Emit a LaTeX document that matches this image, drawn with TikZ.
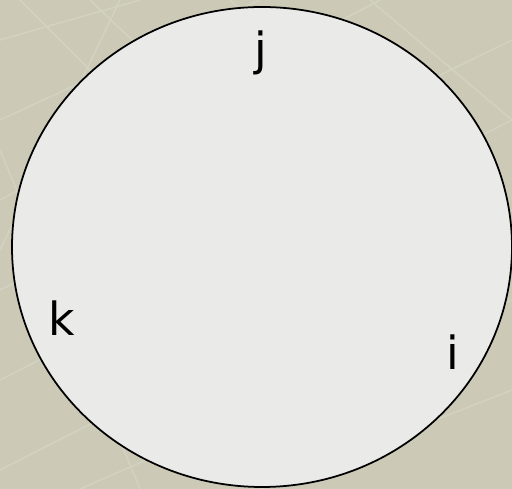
\documentclass[tikz,border=0pt]{standalone}
\usepackage{fontspec}
\setmainfont{DejaVu Sans}
\usepackage{xcolor}
\usetikzlibrary{positioning}
\definecolor{slidebg}{HTML}{CCCAB7}
\definecolor{slidegrid}{HTML}{D3D1C0}
\definecolor{discfill}{HTML}{EAEAE8}

\begin{document}
\begin{tikzpicture}[x=0.02cm,y=-0.02cm,
    axislabel/.style={font=\fontsize{26}{26}\selectfont, inner sep=0pt}]
      \fill[slidebg] (0,0) rectangle (512,489);
      \useasboundingbox (0,0) rectangle (512,489);
      \begin{scope}
        \clip (0,0) rectangle (512,489);
        \foreach \xa/\ya/\xb/\yb in {0/40/140/0,0/120/260/0,0/200/380/0,0/290/512/40,0/380/512/120,0/470/512/210,80/489/512/300,260/489/512/390,
          20/0/170/150,90/0/300/200,230/0/512/260,370/0/512/120,0/150/140/489,120/0/0/250}
          \draw[slidegrid, line width=0.9pt] (\xa,\ya) -- (\xb,\yb);
      \end{scope}
      \draw[black, fill=discfill, line width=1pt] (262,247) ellipse (250 and 240);
      \node[axislabel] (j) at (261,53) {j};
      \node[axislabel] (k) at (62,318) {k};
      \node[axislabel] (i) at (453,352) {i};
    \end{tikzpicture}
\end{document}
